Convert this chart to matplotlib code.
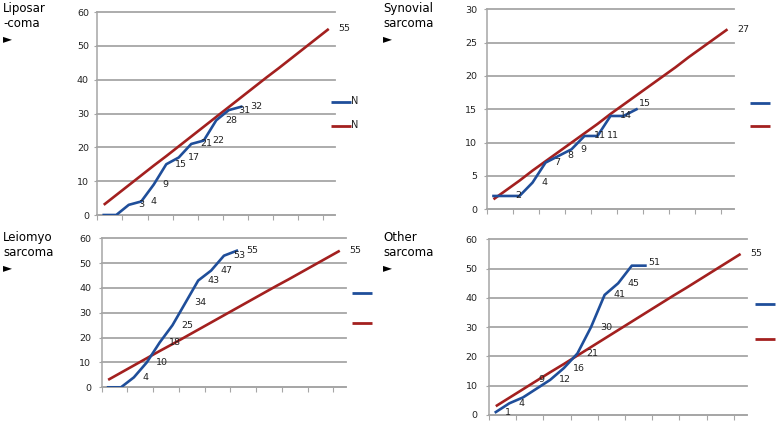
"""
Four small observed-vs-expected line charts (Liposarcoma, Synovial,
Leiomyosarcoma, Other) laid out as in the reference figure.
"""

import matplotlib
matplotlib.use("Agg")
import matplotlib.pyplot as plt
from matplotlib.lines import Line2D

W, H = 778, 421

# ── Data ─────────────────────────────────────────────────────────────────────

lipo_obs = [0, 0, 3, 4, 9, 15, 17, 21, 22, 28, 31, 32]
lipo_lab = [None, None, 3, 4, 9, 15, 17, 21, 22, 28, 31, 32]

syn_obs = [2, 2, 2, 4, 7, 8, 9, 11, 11, 14, 14, 15]
syn_lab = [None, 2, None, 4, 7, 8, 9, 11, 11, 14, None, 15]

leio_obs = [0, 0, 4, 10, 18, 25, 34, 43, 47, 53, 55]
leio_lab = [None, None, 4, 10, 18, 25, 34, 43, 47, 53, 55]

other_obs = [1, 4, 6, 9, 12, 16, 21, 30, 41, 45, 51, 51]
other_lab = [1, 4, None, 9, 12, 16, 21, 30, 41, 45, None, 51]

# expected (red) lines, 19 categories each
exp_55 = [3.0, 5.9, 8.8, 11.7, 14.6, 17.4, 20.3, 23.2, 26.1, 29.0,
          31.9, 34.8, 37.7, 40.6, 43.4, 46.3, 49.2, 52.1, 55.0]
exp_27 = [1.5, 2.9, 4.3, 5.8, 7.2, 8.6, 10.0, 11.4, 12.8, 14.3,
          15.7, 17.1, 18.5, 19.9, 21.3, 22.8, 24.2, 25.6, 27.0]

titles = ["Liposar\n-coma\n\u25ba", "Synovial\nsarcoma\n\u25ba",
          "Leiomyo\nsarcoma\n\u25ba", "Other\nsarcoma\n\u25ba"]
legend_text = ["N", ""]

BLUE = "#1F4E9A"
RED = "#A3201F"
GRID = "#A6A6A6"
TXT = "#222222"

# ── Layout (pixel boxes of each plot area: left, right, top, bottom) ─────────

panels = [
    dict(obs=lipo_obs, lab=lipo_lab, exp=exp_55, title=titles[0], ymax=60, step=10,
         box=(97.5, 335.0, 12.0, 215.0), tx=(3, 2), pad=4.0,
         leg=(331, 101.5, 125.5), leg_labels=True, special={}),
    dict(obs=syn_obs, lab=syn_lab, exp=exp_27, title=titles[1], ymax=30, step=5,
         box=(487.0, 734.0, 9.3, 209.3), tx=(383, 2), pad=5.0,
         leg=(750, 103, 126), leg_labels=False, special={11: (2, 6)}),
    dict(obs=leio_obs, lab=leio_lab, exp=exp_55, title=titles[2], ymax=60, step=10,
         box=(101.7, 346.2, 238.3, 387.3), tx=(3, 231), pad=5.5,
         leg=(352, 292.7, 323), leg_labels=False, special={}),
    dict(obs=other_obs, lab=other_lab, exp=exp_55, title=titles[3], ymax=60, step=10,
         box=(489.0, 747.4, 239.3, 415.0), tx=(383, 231), pad=6.0,
         leg=(755, 304.3, 339), leg_labels=False, special={3: (2, 9), 11: (3, 3)}),
]


def px_line(fig, x0, x1, y, color):
    fig.add_artist(Line2D([x0 / W, x1 / W], [1 - y / H, 1 - y / H],
                          transform=fig.transFigure, color=color, lw=2.0,
                          solid_capstyle="butt"))


def draw_panel(fig, p):
    l, r, t, b = p["box"]
    ax = fig.add_axes([l / W, 1 - b / H, (r - l) / W, (b - t) / H])
    n = len(p["exp"])

    ax.plot(range(n), p["exp"], color=RED, lw=1.9, solid_capstyle="butt", zorder=3)
    ax.plot(range(len(p["obs"])), p["obs"], color=BLUE, lw=1.9,
            solid_joinstyle="round", zorder=4)

    # data labels on the observed line
    for i, (v, lab) in enumerate(zip(p["obs"], p["lab"])):
        if lab is None:
            continue
        dx, dy = p["special"].get(i, (9, 0))
        ax.annotate(str(lab), (i, v), xytext=(dx, dy), textcoords="offset pixels",
                    ha="left", va="center", fontsize=6.8, color=TXT,
                    annotation_clip=False, zorder=5)
    # end label on the expected line
    ax.annotate(f"{p['exp'][-1]:.0f}", (n - 1, p["exp"][-1]), xytext=(10, 0),
                textcoords="offset pixels", ha="left", va="center",
                fontsize=6.8, color=TXT, annotation_clip=False)

    ax.set_xlim(-0.5, n - 0.5)
    ax.set_ylim(0, p["ymax"])
    ax.set_yticks(range(0, p["ymax"] + 1, p["step"]))
    ax.set_xticks([k - 0.5 for k in range(0, n, 2)])
    ax.set_xticklabels([])
    ax.yaxis.grid(True, color=GRID, lw=1.3)
    for gl in ax.get_ygridlines():
        gl.set_clip_on(False)
    ax.set_axisbelow(True)

    for s in ("top", "right"):
        ax.spines[s].set_visible(False)
    for s in ("left", "bottom"):
        ax.spines[s].set_color(GRID)
        ax.spines[s].set_linewidth(1.1)
    ax.tick_params(axis="y", length=2.2, width=0.8, color=GRID, pad=p["pad"],
                   labelsize=6.8, labelcolor=TXT)
    ax.tick_params(axis="x", length=3.6, width=0.8, color=GRID)
    ax.patch.set_alpha(0)

    fig.text(p["tx"][0] / W, 1 - p["tx"][1] / H, p["title"], ha="left", va="top",
             fontsize=8.5, color="black", linespacing=1.2)

    # legend keys
    lx, yb, yr = p["leg"]
    px_line(fig, lx, lx + 20, yb, BLUE)
    px_line(fig, lx, lx + 20, yr, RED)
    if p["leg_labels"]:
        for y in (yb, yr):
            fig.text((lx + 20.5) / W, 1 - y / H, legend_text[0], ha="left",
                     va="center", fontsize=7, color=TXT)
    return ax


fig = plt.figure(figsize=(W / 100, H / 100), dpi=100)
fig.patch.set_facecolor("white")
for p in panels:
    draw_panel(fig, p)

fig.savefig("out.png", dpi=100)
